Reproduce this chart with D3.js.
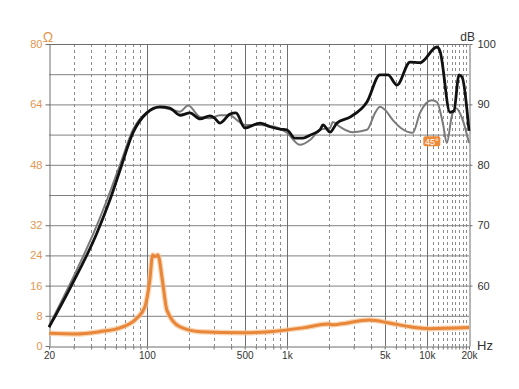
<!DOCTYPE html>
<html>
<head>
<meta charset="utf-8">
<script src="https://cdn.jsdelivr.net/npm/d3@7"></script>
<style>
  body { margin: 0; background: #fff; }
  svg { display: block; font-family: 'Liberation Sans', Arial, sans-serif; }
</style>
</head>
<body>
<div id="chart"></div>
<script>
// on-axis SPL (black)
const onAxisHz = [20, 28.3, 44, 54.5, 64.3, 79.6, 100, 124, 146, 172.5, 203, 240, 282, 306, 333, 393, 433, 502, 643, 758, 894, 1000, 1143, 1304, 1463, 1726, 1812, 2033, 2276, 2825, 3734, 4625, 5275, 6120, 7580, 8935, 11810, 12420, 14630, 15600, 16970, 17870, 20000];
const onAxisDb = [53.1, 59.6, 68.7, 74.2, 79.1, 85.3, 88.6, 89.6, 89.4, 88.2, 88.6, 87.6, 88.1, 87.7, 86.9, 88.4, 88.6, 86.1, 86.9, 86.3, 85.9, 85.8, 84.4, 84.4, 84.9, 85.8, 86.6, 85.4, 86.9, 87.9, 90.4, 94.9, 94.9, 93.2, 97.0, 96.9, 99.5, 98.8, 88.7, 88.9, 94.9, 94.5, 85.6];

// 45 degree SPL (grey)
const offAxisHz = [20, 28.3, 44, 54.5, 64.3, 79.6, 100, 124, 146, 172, 197, 240, 282, 333, 393, 440, 502, 643, 820, 1000, 1243, 1463, 1726, 2033, 2130, 2390, 2950, 3734, 4270, 4625, 5020, 5720, 6520, 7930, 8935, 10850, 11810, 13030, 13900, 15080, 16100, 17870, 20000];
const offAxisDb = [53.3, 60.3, 70.0, 75.5, 80.0, 85.8, 88.7, 89.5, 89.2, 88.8, 89.8, 87.9, 87.7, 88.2, 88.2, 87.4, 86.6, 86.6, 86.3, 85.3, 83.3, 84.1, 85.8, 86.1, 87.1, 86.3, 85.4, 85.8, 88.6, 89.6, 89.1, 87.4, 86.1, 85.3, 88.6, 90.7, 90.4, 86.8, 83.6, 88.1, 89.4, 87.7, 83.6];

// impedance (orange)
const impHz = [20, 30.7, 46, 64.3, 85, 96.9, 105, 110, 115, 120, 129, 139, 172, 240, 486, 758, 1304, 1975, 2130, 2390, 3900, 5400, 7580, 10470, 20000];
const impOhm = [3.36, 3.2, 3.8, 4.8, 7.4, 10.4, 17.5, 24.1, 23.7, 24.1, 17.5, 9.5, 5.1, 3.8, 3.5, 3.8, 4.8, 5.8, 5.6, 5.8, 6.9, 6.1, 5.1, 4.6, 4.9];

const ohmTicks = [0, 8, 16, 24, 32, 48, 64, 80];
const dbTicks = [60, 70, 80, 90, 100];
const hzLabels = { 20: '20', 100: '100', 500: '500', 1000: '1k', 5000: '5k', 10000: '10k', 20000: '20k' };
const solidHz = [100, 500, 1000, 5000, 10000];
const dashedHz = [30, 40, 50, 60, 70, 80, 90, 200, 300, 400, 600, 700, 800, 900,
  2000, 3000, 4000, 6000, 7000, 8000, 9000,
  11000, 12000, 13000, 14000, 15000, 16000, 17000, 18000, 19000];

const W = 519, H = 389;
const L = 49, R = 469, T = 44, B = 346;

const svg = d3.select('#chart').append('svg')
  .attr('width', W).attr('height', H);

const x = d3.scaleLog().domain([20, 20000]).range([L, R]);
const yOhm = d3.scaleLinear().domain([0, 80]).range([B, T]);
const yDb = d3.scaleLinear().domain([50, 100]).range([B, T]);

// grid
const grid = svg.append('g');
grid.selectAll('.hg').data(d3.range(8, 81, 8)).enter().append('line')
  .attr('x1', L).attr('x2', R)
  .attr('y1', d => yOhm(d) + 0.5).attr('y2', d => yOhm(d) + 0.5)
  .attr('stroke', '#808080').attr('stroke-width', 1);

grid.selectAll('.dg').data(dashedHz).enter().append('line')
  .attr('x1', d => Math.round(x(d)) + 0.5).attr('x2', d => Math.round(x(d)) + 0.5)
  .attr('y1', T).attr('y2', B)
  .attr('stroke', '#8c8c8c').attr('stroke-width', 1)
  .attr('stroke-dasharray', '3,3');

grid.selectAll('.sg').data(solidHz).enter().append('line')
  .attr('x1', d => Math.round(x(d)) + 0.5).attr('x2', d => Math.round(x(d)) + 0.5)
  .attr('y1', T).attr('y2', B)
  .attr('stroke', '#6e6e6e').attr('stroke-width', 1);

// axes
const styleAxis = (g, color) => {
  g.select('.domain').attr('stroke', '#6e6e6e');
  g.selectAll('.tick line').attr('stroke', '#6e6e6e');
  g.selectAll('.tick text').attr('fill', color).style('font-size', '11px');
};

svg.append('g')
  .attr('transform', `translate(${L + 0.5},0)`)
  .call(d3.axisLeft(yOhm).tickValues(ohmTicks).tickSize(4).tickPadding(3).tickSizeOuter(0))
  .call(g => styleAxis(g, '#e29650'));

svg.append('g')
  .attr('transform', `translate(${R + 0.5},0)`)
  .call(d3.axisRight(yDb).tickValues(dbTicks).tickSize(3).tickPadding(5).tickSizeOuter(0))
  .call(g => styleAxis(g, '#333'));

svg.append('g')
  .attr('transform', `translate(0,${B + 0.5})`)
  .call(d3.axisBottom(x)
    .tickValues([20].concat(dashedHz, solidHz, [20000]))
    .tickFormat(d => hzLabels[d] || '')
    .tickSize(3).tickPadding(2).tickSizeOuter(0))
  .call(g => styleAxis(g, '#333'))
  .call(g => g.selectAll('.tick text').style('font-size', '10px'));

// top border
svg.append('line').attr('x1', L).attr('x2', R).attr('y1', T + 0.5).attr('y2', T + 0.5)
  .attr('stroke', '#6e6e6e');

// unit labels
svg.append('text').attr('x', L - 1).attr('y', T - 2).attr('text-anchor', 'middle')
  .attr('fill', '#e29650').style('font-size', '14px').text('Ω');
svg.append('text').attr('x', R + 6).attr('y', T - 3).attr('text-anchor', 'end')
  .attr('fill', '#333').style('font-size', '12px').text('dB');
svg.append('text').attr('x', R + 8).attr('y', B + 4)
  .attr('fill', '#333').style('font-size', '13px').text('Hz');

// curves
const lineOf = (xs, ys, yScale) => d3.line()
  .x((d, i) => x(xs[i]))
  .y(d => yScale(d))
  .curve(d3.curveMonotoneX)(ys);

svg.append('path').attr('d', lineOf(impHz, impOhm, yOhm))
  .attr('fill', 'none').attr('stroke', '#f6c495').attr('stroke-width', 5.5).attr('opacity', 0.7);
svg.append('path').attr('d', lineOf(impHz, impOhm, yOhm))
  .attr('fill', 'none').attr('stroke', '#e8863a').attr('stroke-width', 3);

svg.append('path').attr('d', lineOf(offAxisHz, offAxisDb, yDb))
  .attr('fill', 'none').attr('stroke', '#7a7a7a').attr('stroke-width', 2);

svg.append('path').attr('d', lineOf(onAxisHz, onAxisDb, yDb))
  .attr('fill', 'none').attr('stroke', '#111').attr('stroke-width', 2.8)
  .attr('stroke-linejoin', 'round');

// 45° tag
const tagX = x(10850), tagY = yDb(83.9);
svg.append('rect').attr('x', tagX - 8.5).attr('y', tagY - 5).attr('width', 17).attr('height', 10)
  .attr('rx', 2).attr('fill', '#ec8a3c');
svg.append('text').attr('x', tagX).attr('y', tagY + 3.5).attr('text-anchor', 'middle')
  .attr('fill', '#fff').style('font-size', '9px').text('45°');
</script>
</body>
</html>
